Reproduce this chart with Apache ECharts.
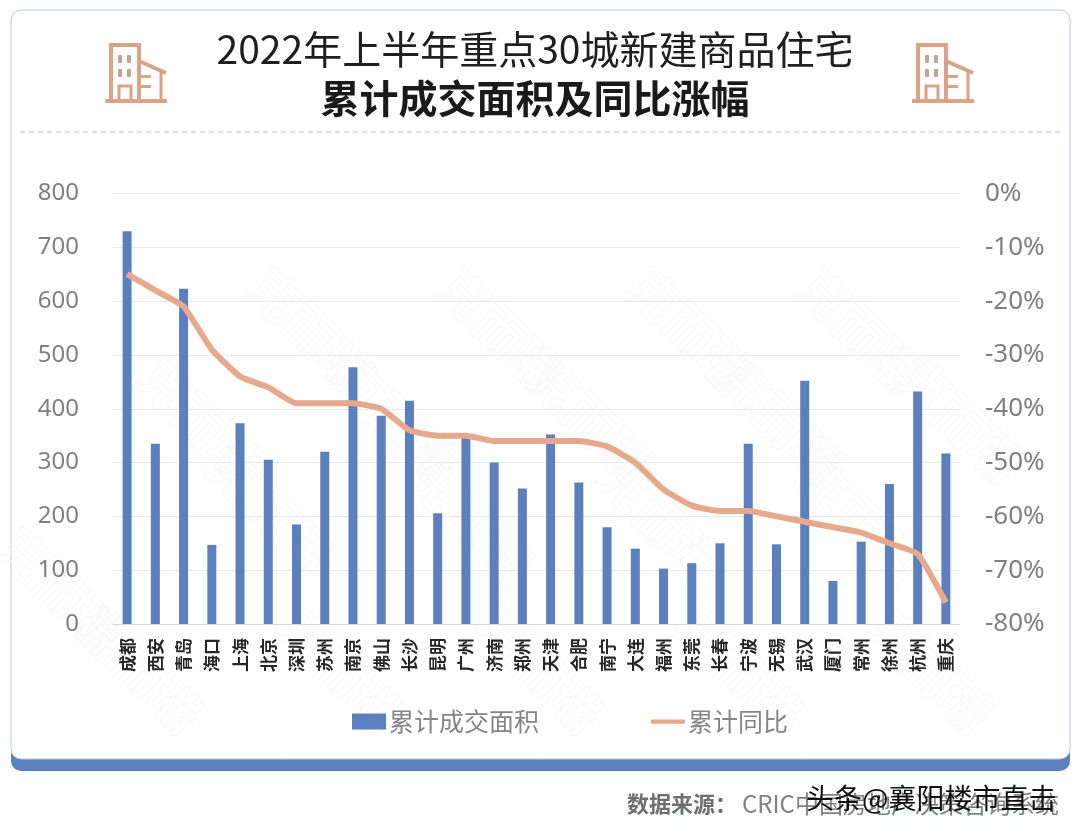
<!DOCTYPE html>
<html><head><meta charset="utf-8">
<style>html,body{margin:0;padding:0;background:#fff}#c{width:1080px;height:836px}</style>
<script src="https://cdn.jsdelivr.net/npm/echarts@6/dist/echarts.min.js"></script></head>
<body><div id="c"></div>
<script>
const categories=['成都','西安','青岛','海口','上海','北京','深圳','苏州','南京','佛山','长沙','昆明','广州','济南','郑州','天津','合肥','南宁','大连','福州','东莞','长春','宁波','无锡','武汉','厦门','常州','徐州','杭州','重庆'];
const areaValues=[730,335,623,147,373,305,185,320,477,387,415,206,350,300,252,352,263,180,140,103,113,150,335,148,452,80,153,260,432,317];
const yoyValues=[-15,-18,-21,-29,-34,-36,-39,-39,-39,-40,-44,-45,-45,-46,-46,-46,-46,-47,-50,-55,-58,-59,-59,-60,-61,-62,-63,-65,-67,-76];
const fontCJK='"Noto Sans CJK SC","Noto Sans",sans-serif';
const brick='#d9a387';
function icon(x,y){
  const s={stroke:brick,fill:'none',lineWidth:4};
  const win=(a,b,w,h)=>({type:'rect',shape:{x:x+a,y:y+b,width:w,height:h,r:1},style:{fill:'#c4a393'},silent:true});
  return [
    {type:'polyline',shape:{points:[[x+4,y+57],[x+4,y+2],[x+32,y+2],[x+32,y+57]]},style:s,silent:true},
    {type:'polyline',shape:{points:[[x+32,y+18],[x+59,y+30]]},style:s,silent:true},
    {type:'line',shape:{x1:x+54,y1:y+29,x2:x+54,y2:y+57},style:{stroke:brick,lineWidth:3},silent:true},
    {type:'line',shape:{x1:x-2,y1:y+58,x2:x+60,y2:y+58},style:{stroke:brick,lineWidth:4},silent:true},
    win(11,12,4,8),win(20,12,4,8),win(11,26,4,8),win(20,26,4,8),
    {type:'polyline',shape:{points:[[x+12,y+57],[x+12,y+43],[x+24,y+43],[x+24,y+57]]},style:{stroke:brick,fill:'none',lineWidth:3},silent:true},
    {type:'rect',shape:{x:x+34,y:y+32,width:10,height:3},style:{fill:brick},silent:true},
    {type:'rect',shape:{x:x+34,y:y+42,width:10,height:3},style:{fill:brick},silent:true}
  ];
}
const wm=[[310,330],[500,330],[690,330],[860,330],[200,420],[395,420],[590,420],[780,420],[960,420],[60,590],[270,510],[470,520],[660,520],[860,520],[140,670],[340,670],[540,670],[740,670],[930,670]].map(p=>({
  type:'text',z:-7,x:p[0],y:p[1],rotation:-Math.PI/4,silent:true,
  style:{text:'克而瑞',align:'center',verticalAlign:'middle',font:'700 50px '+fontCJK,fill:'none',stroke:'#f7f7f7',lineWidth:1}
}));
const chart=echarts.init(document.getElementById('c'),null,{renderer:'canvas'});
chart.setOption({
  animation:false,backgroundColor:'#fdfefe',
  graphic:{elements:[
    {type:'rect',z:-10,shape:{x:11,y:14,width:1059,height:757,r:10},style:{fill:'#5b80bd'},silent:true},
    {type:'rect',z:-9,shape:{x:11,y:10,width:1059,height:749,r:10},style:{fill:'#ffffff',stroke:'#b9c8e0',lineWidth:1},silent:true},
    ...wm,
    {type:'line',z:-6,shape:{x1:20,y1:132,x2:1060,y2:132},style:{stroke:'#bdbdbd',lineWidth:1,lineDash:[5,4]},silent:true},
    {type:'text',style:{x:535,y:49,text:'2022年上半年重点30城新建商品住宅',align:'center',verticalAlign:'middle',font:'400 39px '+fontCJK,fill:'#1f1f1f'},silent:true},
    {type:'text',style:{x:535,y:98,text:'累计成交面积及同比涨幅',align:'center',verticalAlign:'middle',font:'700 39px '+fontCJK,fill:'#1a1a1a'},silent:true},
    {type:'text',style:{x:627,y:804,text:'数据来源：',align:'left',verticalAlign:'middle',font:'700 22px '+fontCJK,fill:'#6f6f6f'},silent:true},
    {type:'text',style:{x:742,y:804,text:'CRIC中国房地产决策咨询系统',align:'left',verticalAlign:'middle',font:'400 24px '+fontCJK,fill:'#808080'},silent:true},
    {type:'text',style:{x:806,y:798,text:'头条@襄阳楼市直击',align:'left',verticalAlign:'middle',font:'400 28px '+fontCJK,fill:'#111111'},silent:true},
    ...icon(107,43),...icon(914,43)
  ]},
  legend:{
    top:704,left:347,itemGap:112,itemWidth:34,itemHeight:16,
    textStyle:{fontFamily:fontCJK,fontSize:25,color:'#858585',padding:[0,0,0,-2]},
    data:[{name:'累计成交面积',icon:'rect'},{name:'累计同比',icon:'path://M0 0H40V5H0Z'}]
  },
  grid:{left:113,right:120,top:193.5,height:430.5},
  xAxis:{type:'category',data:categories,
    axisLine:{lineStyle:{color:'#d6d6d6'}},axisTick:{show:false},
    axisLabel:{interval:0,rotate:90,fontFamily:fontCJK,fontSize:17,fontWeight:600,color:'#262626',margin:14}},
  yAxis:[
    {type:'value',min:0,max:800,interval:100,axisLine:{show:false},axisTick:{show:false},
      splitLine:{lineStyle:{color:'#e9e9e9'}},
      axisLabel:{fontFamily:'"Noto Sans",sans-serif',fontSize:24,color:'#808080',margin:34}},
    {type:'value',min:-80,max:0,interval:10,axisLine:{show:false},axisTick:{show:false},splitLine:{show:false},
      axisLabel:{formatter:'{value}%',fontFamily:'"Noto Sans",sans-serif',fontSize:26,color:'#808080',margin:25}}
  ],
  series:[
    {name:'累计成交面积',type:'bar',data:areaValues,barWidth:9,itemStyle:{color:'#5b80bd'}},
    {name:'累计同比',type:'line',yAxisIndex:1,data:yoyValues,smooth:0.15,symbol:'none',
      lineStyle:{color:'#e6a98c',width:6},itemStyle:{color:'#e6a98c'}}
  ]
});
</script></body></html>
